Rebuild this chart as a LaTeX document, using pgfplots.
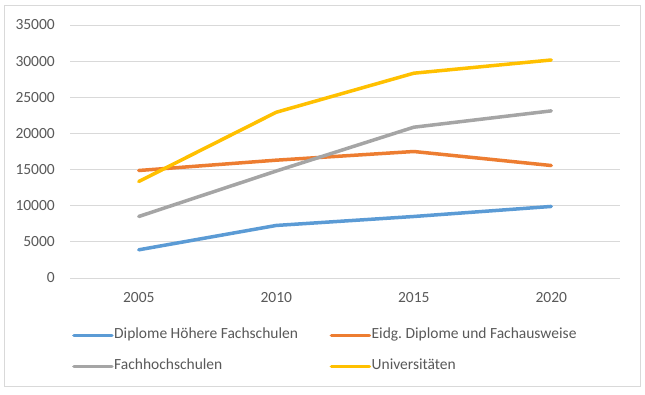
\documentclass[border=0pt]{standalone}
\usepackage{fontspec}
\setmainfont{Carlito}
\usepackage{pgfplots}
\pgfplotsset{compat=1.18}
\definecolor{cblue}{HTML}{5B9BD5}
\definecolor{corange}{HTML}{ED7D31}
\definecolor{cgray}{HTML}{A5A5A5}
\definecolor{cyellow}{HTML}{FFC000}
\definecolor{gridc}{HTML}{D9D9D9}
\definecolor{textc}{HTML}{595959}
\frenchspacing
\begin{document}
\fontsize{15.5bp}{18bp}\selectfont
\begin{tikzpicture}[x=1bp,y=1bp]
\path[use as bounding box] (0,0) rectangle (645,394);
\draw[color=gridc, line width=1bp, fill=white] (4.5,7.5) rectangle (640.5,388.5);
\begin{axis}[
  at={(70bp,116bp)}, anchor=south west,
  scale only axis, width=550bp, height=253bp,
  xmin=-0.5, xmax=3.5, ymin=0, ymax=35000,
  xtick={0,1,2,3}, xticklabels={2005,2010,2015,2020},
  ytick={0,5000,...,35000},
  /pgf/number format/assume math mode=true,
  /pgf/number format/1000 sep={},
  scaled y ticks=false,
  axis line style={draw=none},
  major tick length=0pt,
  ymajorgrids, grid style={color=gridc, line width=1bp},
  tick label style={color=textc, font=\fontsize{15.5bp}{18bp}\selectfont},
  yticklabel style={inner sep=0pt, anchor=east, xshift=-15bp},
  xticklabel style={inner sep=0pt, anchor=north, yshift=-14bp},
  every axis plot/.append style={line width=3.5bp, line cap=round, line join=round},
  legend columns=2,
  legend image code/.code={\draw[#1] (0bp,0bp) -- (38bp,0bp);},
  legend style={at={(0.0036,-0.196)}, anchor=north west, draw=none, fill=none,
    inner sep=0pt, column sep=0.5bp, row sep=16bp,
    font=\fontsize{15.5bp}{18bp}\selectfont\frenchspacing, text=textc,
    nodes={inner sep=0pt, text width=215bp, align=flush left, text height=11bp, text depth=4bp}},
]
\addplot[color=cblue] coordinates {(0,3900) (1,7270) (2,8510) (3,9900)};
\addlegendentry{Diplome Höhere Fachschulen}
\addplot[color=corange] coordinates {(0,14870) (1,16300) (2,17500) (3,15560)};
\addlegendentry{Eidg. Diplome und Fachausweise}
\addplot[color=cgray] coordinates {(0,8510) (1,14800) (2,20860) (3,23120)};
\addlegendentry{Fachhochschulen}
\addplot[color=cyellow] coordinates {(0,13350) (1,22930) (2,28330) (3,30160)};
\addlegendentry{Universitäten}
\end{axis}
\end{tikzpicture}
\end{document}
